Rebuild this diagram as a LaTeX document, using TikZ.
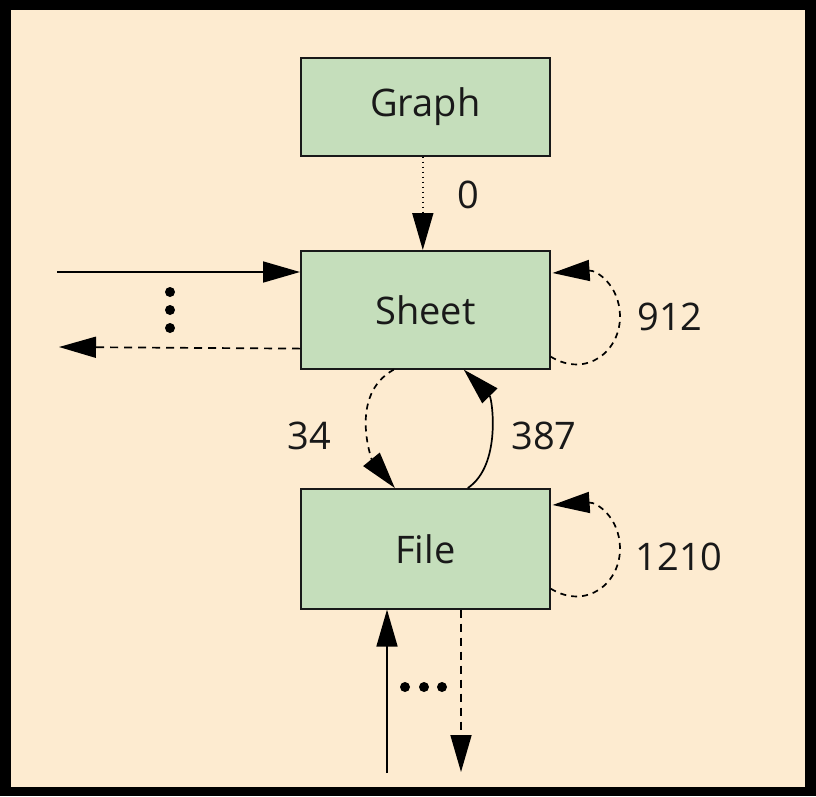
\documentclass[tikz,border=0pt]{standalone}
\usepackage{fontspec}
\setmainfont{Open Sans}
\usetikzlibrary{arrows.meta}
\definecolor{bgcream}{RGB}{253,235,208}
\definecolor{boxgreen}{RGB}{197,222,187}
\definecolor{inkdark}{RGB}{25,25,25}
\begin{document}
\begin{tikzpicture}[x=1pt,y=-1pt,
  box/.style={draw=inkdark,line width=1.6pt,fill=boxgreen,minimum width=249pt,
    minimum height=118pt,inner sep=0pt,anchor=north west,
    font=\fontsize{38}{42}\selectfont,text=inkdark},
  lbl/.style={inner sep=0pt,font=\fontsize{38}{42}\selectfont,text=inkdark},
  arr/.style={-{Triangle[length=37pt,width=21pt]},line width=1.7pt,draw=black},
  dsh/.style={dash pattern=on 8pt off 6pt},
  lpdsh/.style={dash pattern=on 6pt off 5pt},
  dtd/.style={dash pattern=on 1.8pt off 3.2pt},
  dot/.style={fill=black}]
\useasboundingbox (0,0) rectangle (816,796);
\fill[black] (0,0) rectangle (816,796);
\fill[bgcream] (11,10) rectangle (805,787);

% boxes
\node[box,minimum height=98pt] (G) at (300,57) {Graph};
\node[box] (S) at (300,250) {Sheet};
\node[box,minimum height=120pt] (F) at (300,488) {File};

% Graph -> Sheet
\draw[arr,dtd] ([xshift=-2.5pt]G.south) -- ([xshift=-2.5pt]S.north);
\node[lbl] (l0) at (468,195) {0};

% left in/out
\coordinate (inL) at (57,272);
\coordinate (outL) at (59,347);
\draw[arr] (inL) -- ([yshift=-22pt]S.north west);
\draw[arr,dsh] ([yshift=21pt]S.south west) -- (outL);
\fill[dot] (170,292) circle (5pt);
\fill[dot] (170,310) circle (5pt);
\fill[dot] (170,328) circle (5pt);

% Sheet <-> File
\draw[arr,lpdsh] ([xshift=-31.5pt]S.south) .. controls (348,395) and (372,460) .. ([xshift=-30.5pt]F.north);
\draw[arr] ([xshift=42.5pt]F.north) .. controls (502,465) and (492,398) .. ([xshift=38.5pt]S.south);
\node[lbl] (l34) at (309,436) {34};
\node[lbl] (l387) at (544,436) {387};

% self loops
\coordinate (m1) at (620,315);
\draw[arr,lpdsh] ([yshift=13pt]S.south east) .. controls +(36,22) and +(1,36) .. (m1)
   .. controls +(-1,-30) and +(44,-3) .. ([xshift=2pt,yshift=-23pt]S.north east);
\node[lbl] (l912) at (670,317) {912};

\coordinate (m2) at (620,547);
\draw[arr,lpdsh] ([yshift=21pt]F.south east) .. controls +(36,22) and +(1,36) .. (m2)
   .. controls +(-1,-30) and +(44,-3) .. ([xshift=2pt,yshift=-17pt]F.north east);
\node[lbl] (l1210) at (679,557) {1210};

% bottom in/out
\coordinate (inB) at (387,773);
\coordinate (outB) at (461,772);
\draw[arr] (inB) -- (inB |- F.south);
\draw[arr,dsh] (outB |- F.south) -- (outB);
\fill[dot] (405,687) circle (5pt);
\fill[dot] (424,687) circle (5pt);
\fill[dot] (442,687) circle (5pt);
\end{tikzpicture}
\end{document}
